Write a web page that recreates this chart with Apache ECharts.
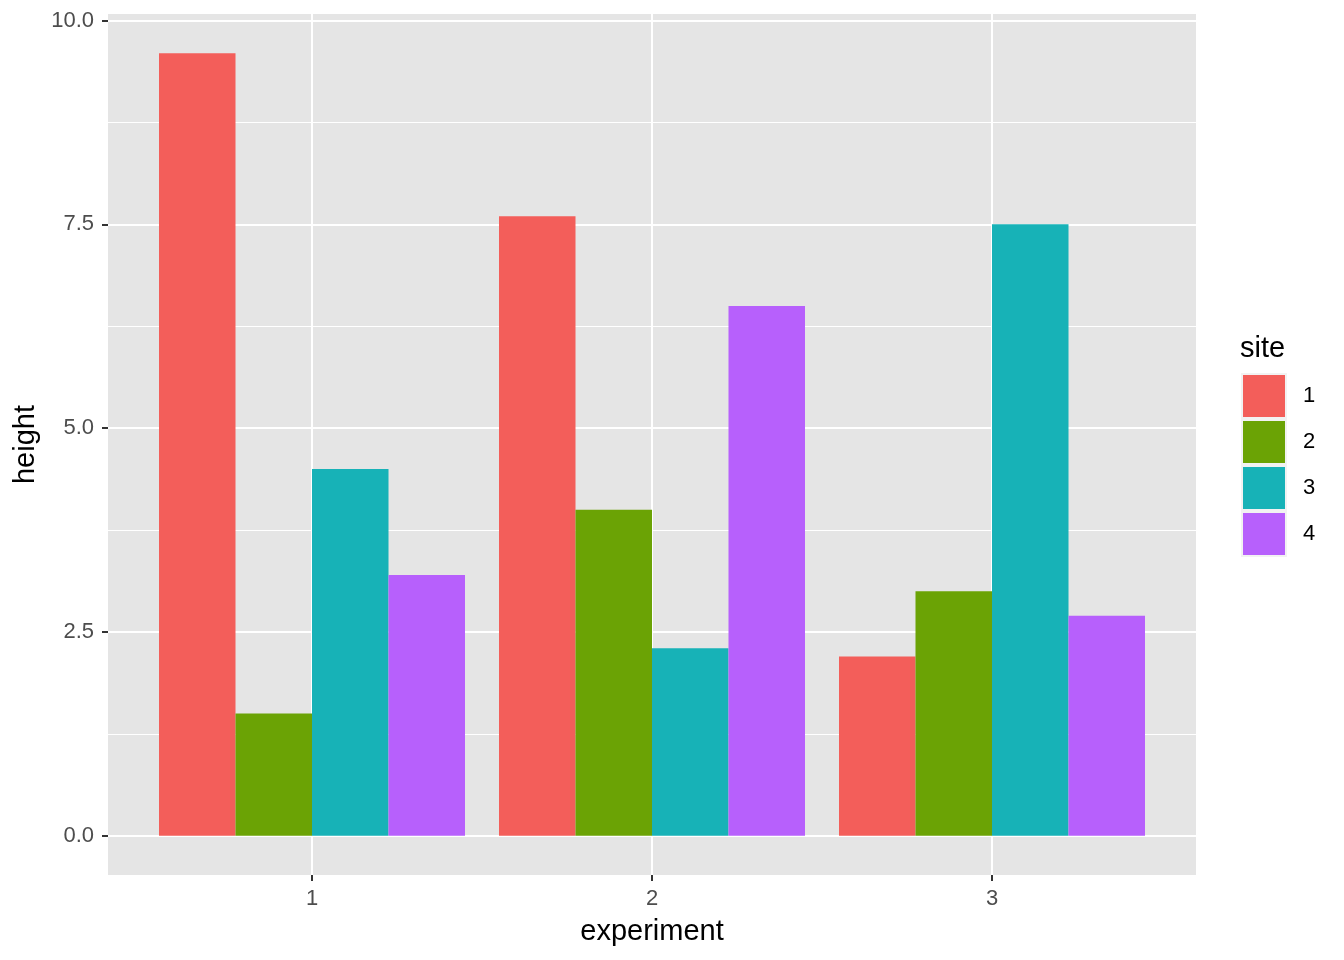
<!DOCTYPE html>
<html>
<head>
<meta charset="utf-8">
<script src="https://cdn.jsdelivr.net/npm/echarts@6/dist/echarts.min.js"></script>
<style>html,body{margin:0;padding:0;background:#fff}#c{width:1344px;height:960px}</style>
</head>
<body>
<div id="c"></div>
<script>
const experiments = [1, 2, 3];
const sites = ['1', '2', '3', '4'];
const site1 = [9.6, 7.6, 2.2];
const site2 = [1.5, 4.0, 3.0];
const site3 = [4.5, 2.3, 7.5];
const site4 = [3.2, 6.5, 2.7];
const yTicks = [0, 2.5, 5, 7.5, 10];
const yMinor = [1.25, 3.75, 6.25, 8.75];
const colors = ['#F35E5A', '#6BA305', '#17B2B7', '#B760FC'];

const values = [site1, site2, site3, site4];
const dodge = 0.9 / sites.length;
const font = 'Liberation Sans, Arial, Helvetica, sans-serif';

const series = sites.map((s, i) => ({
  name: s,
  type: 'custom',
  itemStyle: { color: colors[i] },
  data: experiments.map((e, j) => [e, values[i][j]]),
  encode: { x: 0, y: 1 },
  renderItem: function (params, api) {
    const xc = api.value(0) + (i - (sites.length - 1) / 2) * dodge;
    const top = api.coord([xc, api.value(1)]);
    const base = api.coord([xc, 0]);
    const w = api.size([dodge, 0])[0];
    return {
      type: 'rect',
      shape: { x: top[0] - w / 2, y: top[1], width: w, height: base[1] - top[1] },
      style: { fill: colors[i] }
    };
  }
}));

const chart = echarts.init(document.getElementById('c'), null, { renderer: 'canvas' });
chart.setOption({
  animation: false,
  backgroundColor: '#ffffff',
  title: {
    text: 'site', left: 1240, top: 334, padding: 0,
    textStyle: { fontFamily: font, fontSize: 29, fontWeight: 'normal', color: '#000' }
  },
  legend: {
    orient: 'vertical', left: 1241, top: 373, padding: 0,
    itemWidth: 44, itemHeight: 44, itemGap: 0,
    icon: 'rect',
    data: sites,
    itemStyle: { borderColor: '#F2F2F2', borderWidth: 2 },
    textStyle: { fontFamily: font, fontSize: 22, color: '#000', padding: [0, 0, 0, 12] }
  },
  grid: {
    left: 108, width: 1088, top: 14, height: 861,
    show: true, backgroundColor: '#E5E5E5', borderWidth: 0
  },
  xAxis: {
    type: 'value', min: 0.4, max: 3.6,
    name: 'experiment', nameLocation: 'middle', nameGap: 42,
    nameTextStyle: { fontFamily: font, fontSize: 29, color: '#000' },
    axisLine: { show: false, onZero: false },
    axisTick: { show: true, length: 6, lineStyle: { color: '#333333', width: 2 }, customValues: experiments },
    axisLabel: { customValues: experiments, margin: 13, fontFamily: font, fontSize: 22, color: '#4D4D4D', formatter: v => String(v) },
    splitLine: { show: true, lineStyle: { color: '#ffffff', width: 2 } }
  },
  yAxis: [{
    type: 'value', min: -0.48, max: 10.08,
    name: 'height', nameLocation: 'middle', nameGap: 67, nameRotate: 90,
    nameTextStyle: { fontFamily: font, fontSize: 29, color: '#000' },
    axisLine: { show: false, onZero: false },
    axisTick: { show: true, length: 6, lineStyle: { color: '#333333', width: 2 }, customValues: yTicks },
    axisLabel: { customValues: yTicks, margin: 14, fontFamily: font, fontSize: 22, color: '#4D4D4D', formatter: v => v.toFixed(1) },
    splitLine: { show: true, lineStyle: { color: '#ffffff', width: 2 } },
    z: 2
  }, {
    type: 'value', min: -0.48, max: 10.08, position: 'left',
    axisLine: { show: false, onZero: false },
    axisTick: { show: false, customValues: yMinor },
    axisLabel: { show: false, customValues: yMinor },
    splitLine: { show: true, lineStyle: { color: '#ffffff', width: 1 } },
    z: 1
  }],
  series: series
});
</script>
</body>
</html>
